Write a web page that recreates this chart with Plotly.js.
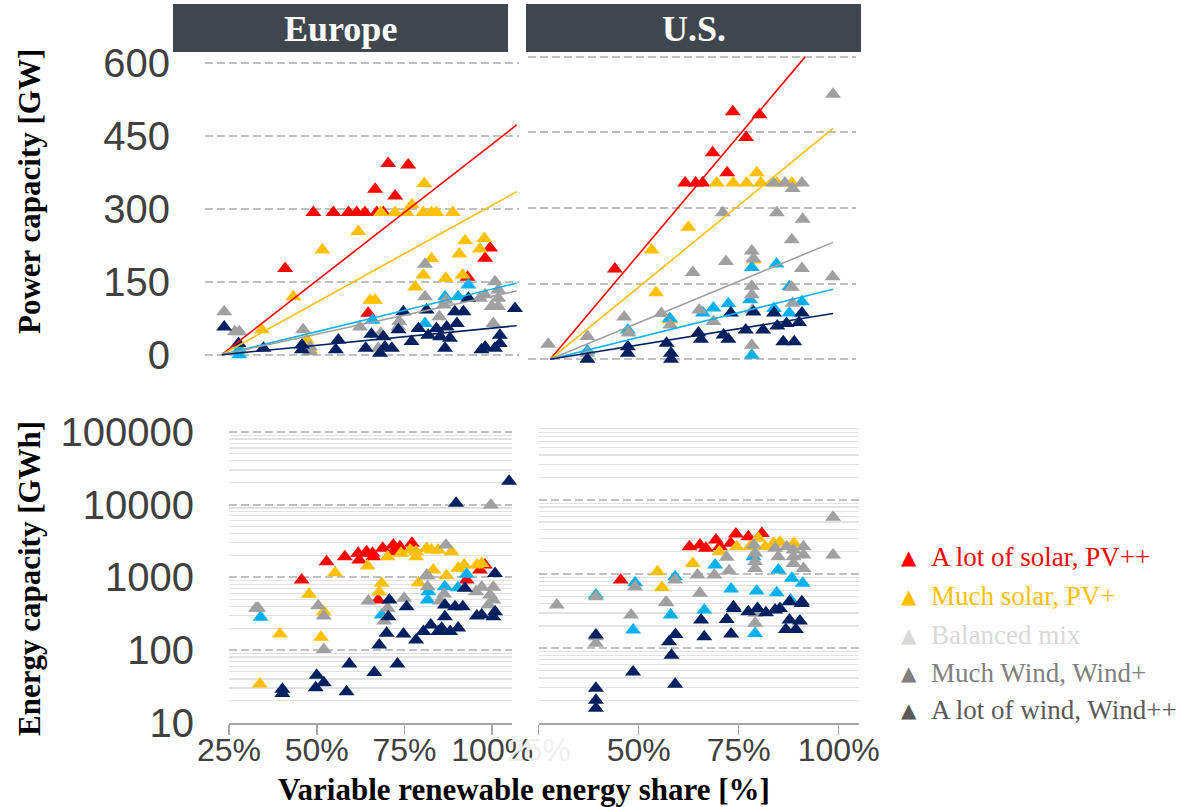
<!DOCTYPE html>
<html><head><meta charset="utf-8">
<script src="https://cdn.plot.ly/plotly-3.0.1.min.js"></script>
<style>html,body{margin:0;padding:0;background:#fff}#chart{width:1186px;height:807px}</style>
</head><body><div id="chart"></div>
<script>
// ---------- categories & styles ----------
const categories = ['A lot of solar, PV++','Much solar, PV+','Balanced mix','Much Wind, Wind+','A lot of wind, Wind++'];
const markerColors = ['#ff0000','#ffc000','#00b0f0','#a0a0a0','#002060'];
const legendColors = ['#ff0000','#ffc000','#d9d9d9','#808080','#595959'];
const panelTitles = ['Europe','U.S.'];
const powerTicks = [0,150,300,450,600];
const energyTicks = [10,100,1000,10000,100000];
const energyMinor = [20,30,40,50,60,70,80,90,200,300,400,500,600,700,800,900,2000,3000,4000,5000,6000,7000,8000,9000,20000,30000,40000,50000,60000,70000,80000,90000];
const shareTicks = [25,50,75,100];
const shareTickText = ['25%','50%','75%','100%'];

// ---------- Europe: power capacity [GW] ----------
const euPowerPVppX = [70.5,75.4,55.4,60.3,64.0,66.0,68.0,70.9,72.5,48.5,98.6,97.4,93.1,68.8,73.7,78.6];
const euPowerPVppY = [340,326,292,292,292,292,292,292,292,177,219,198,159,85,393,390];
const euPowerPVpX = [82.5,79.5,71.9,75.4,78.2,82.3,84.3,85.5,89.5,66.4,57.6,92.5,97.2,96.1,91.1,84.3,82.3,87.8,91.9,80.3,50.5,69.3,70.5,42.8,53.8,54.6,37.5];
const euPowerPVpY = [352,308,292,292,292,292,292,292,292,253,215,234,239,217,207,197,164,157,164,139,119,112,112,51,30,10,10];
const euPowerBalX = [37.3,37.3,69.9,82.7,87.6,90.8,93.3];
const euPowerBalY = [0,10,71,64,119,119,143];
const euPowerWindpX = [33.6,36.2,37.3,82.7,82.7,52.9,54.6,54.6,66.8,71.3,71.9,76.4,76.2,86.2,87.3,87.8,96.1,97.4,99.8,100.6,100.6,99.0,100.6,99.4];
const euPowerWindpY = [88,47,47,186,119,51,6,16,57,13,44,68,57,78,102,112,116,123,150,133,116,99,99,64];
const euPowerWindppX = [33.6,37.1,43.2,52.6,52.6,61.5,60.9,68.2,69.6,71.7,72.9,74.6,77.4,76.2,79.4,81.1,83.1,83.5,85.5,86.4,87.6,88.8,90.0,92.1,90.5,93.3,96.5,97.4,99.8,101.0,101.0,104.7,88.0,72.5];
const euPowerWindppY = [57,23,13,20,10,30,10,13,42,3,16,13,88,51,27,54,92,40,54,37,13,34,88,88,64,116,10,16,13,40,23,95,57,37];
// trend lines (start, end) per category
const euTrendX = [33,105.1];
const euTrendY = [[0,472],[0,335],[0,147],[0,131],[0,59.6]];

// ---------- U.S.: power capacity [GW] ----------
const usPowerPVppX = [75.2,81.8,78.5,70.2,73.8,63.4,66.0,67.7,46.0];
const usPowerPVppY = [491,485,440,410,370,350,350,350,179];
const usPowerPVpX = [71.2,75.3,78.6,81.1,82.1,86.1,89.8,64.2,55.1,56.2,59.7,80.3];
const usPowerPVpY = [350,350,350,370,350,350,350,262,217,132,78,197];
const usPowerBalX = [86.0,79.9,79.5,74.1,70.4,67.8,59.6,49.2,39.2,85.4,89.2,92.3,89.2,79.9];
const usPowerBalY = [189,182,118,110,102,92,81,58,17,101,92,114,144,8];
const usPowerWindpX = [100,85.2,88.1,92.3,90.0,72.7,86.1,92.5,89.8,79.9,80.3,73.5,65.3,92.3,99.9,79.9,79.9,80.1,89.8,90.0,66.9,70.4,57.5,59.7,48.3,49.4,39.2,39.2,29.5,79.9];
const usPowerWindpY = [526,350,350,350,339,291,291,278,237,215,200,194,172,180,164,145,128,98,143,111,98,75,91,68,84,52,45,12,30,28];
const usPowerWindppX = [39.2,49.2,49.2,58.8,59.9,59.9,66.7,67.3,72.9,74.1,74.7,78.4,80.3,82.7,85.4,86.2,88.5,91.6,92.3,87.7,90.4];
const usPowerWindppY = [0,25,12,32,12,0,52,40,48,40,92,58,94,58,92,66,71,73,92,35,35];
const usTrendX = [[30,93.1],[30,100],[30,100],[30,100],[30,100]];
const usTrendY = [[0,600],[0,458],[0,139],[0,232],[0,91]];

// ---------- Europe: energy capacity [GWh] ----------
const euEnergyPVppX = [45.7,52.8,58.0,61.8,62.1,64.2,65.9,66.1,68.8,71.8,73.7,77.1,71.8,97.9,96.5,92.7,67.5];
const euEnergyPVppY = [918,1640,1920,2140,1730,2250,2140,1920,2500,2780,2640,2930,2240,1480,1260,918,487];
const euEnergyPVpX = [55.2,64.5,70.2,74.0,76.6,78.3,78.3,81.3,82.7,84.6,88.4,90.3,92.0,95.6,97.0,83.2,87.0,79.0,68.5,67.8,47.8,39.5,51.2,33.8,52.0];
const euEnergyPVpY = [1155,1430,1920,2140,2370,2250,1920,2500,2370,2370,2250,1330,1480,1480,1550,1260,1050,844,826,630,583,166,150,34,336];
const euEnergyBalX = [34.0,81.6,86.5,90.2,92.7,68.5,81.8];
const euEnergyBalY = [282,487,742,720,1100,302,632];
const euEnergyWindpX = [86.8,99.6,33.3,32.7,50.4,52.0,52.0,64.7,70.2,69.2,74.9,81.6,81.6,86.3,85.1,95.4,97.0,100.3,99.4,100.3,98.9,81.3];
const euEnergyWindpY = [2780,9890,375,375,407,294,102,472,374,251,514,1040,742,590,472,632,730,730,571,487,416,1070];
const euEnergyWindppX = [104.8,89.7,100.8,92.2,70.7,75.6,70.4,69.9,74.7,78.3,67.8,80.4,82.5,84.6,85.6,88.0,90.3,86.5,86.5,89.4,91.6,95.6,97.0,100.3,100.8,59.3,73.0,66.4,50.0,52.0,49.7,58.5,40.2,40.2];
const euEnergyWindppY = [21000,10400,1130,706,487,394,287,170,166,137,117,179,221,179,199,179,200,287,415,394,394,294,302,287,336,64,64,49,45,35.5,30.3,26.7,28.8,25.3];

// ---------- U.S.: energy capacity [GWh] ----------
const usEnergyPVppX = [45.5,62.7,65.3,66.8,69.3,70.3,73.0,74.3,77.4,80.8];
const usEnergyPVppY = [830,2330,2460,2220,2870,2330,2590,3450,3170,3520];
const usEnergyPVpX = [54.7,55.8,63.5,70.2,74.5,79.9,81.6,83.7,85.3,88.8,77.8];
const usEnergyPVpY = [1075,660,1390,2000,2330,3020,2330,2600,2700,2600,2330];
const usEnergyBalX = [49.1,39.3,59.1,69.1,84.9,88.3,91.0,73.1,79.5,84.5,78.7,88.0,58.0,66.4,48.6,79.1];
const usEnergyBalY = [764,521,920,1320,1130,875,750,628,590,561,1710,447,281,327,176,158];
const usEnergyWindpX = [98.6,98.6,78.8,79.1,79.1,79.1,84.1,84.9,87.0,88.7,88.7,88.7,91.2,91.2,91.2,72.0,72.6,64.7,68.9,59.1,49.1,39.3,29.5,57.0,65.3,56.8,48.1,39.3,39.3,79.1,79.1];
const usEnergyWindpY = [5800,1800,2460,1900,1470,1190,2220,1710,2330,2100,1710,1390,2330,1800,1190,1680,1110,970,970,830,674,495,383,411,550,416,281,143,117,296,217];
const usEnergyWindppX = [39.3,39.3,39.3,39.3,48.6,59.1,58.2,57.6,59.2,66.4,65.6,72.0,73.1,73.8,77.4,79.7,81.8,84.1,85.3,87.7,90.8,87.7,90.3,86.8,89.3,73.7,90.8];
const usEnergyWindppY = [151,29,20,15.6,48,33,81,123,154,143,240,245,156,345,311,345,301,327,345,424,424,240,233,180,180,363,400];

// ---------- build traces ----------
const panels = [
  {xa:'x', ya:'y',  X:[euPowerPVppX,euPowerPVpX,euPowerBalX,euPowerWindpX,euPowerWindppX], Y:[euPowerPVppY,euPowerPVpY,euPowerBalY,euPowerWindpY,euPowerWindppY]},
  {xa:'x2',ya:'y2', X:[usPowerPVppX,usPowerPVpX,usPowerBalX,usPowerWindpX,usPowerWindppX], Y:[usPowerPVppY,usPowerPVpY,usPowerBalY,usPowerWindpY,usPowerWindppY]},
  {xa:'x3',ya:'y3', X:[euEnergyPVppX,euEnergyPVpX,euEnergyBalX,euEnergyWindpX,euEnergyWindppX], Y:[euEnergyPVppY,euEnergyPVpY,euEnergyBalY,euEnergyWindpY,euEnergyWindppY]},
  {xa:'x4',ya:'y4', X:[usEnergyPVppX,usEnergyPVpX,usEnergyBalX,usEnergyWindpX,usEnergyWindppX], Y:[usEnergyPVppY,usEnergyPVpY,usEnergyBalY,usEnergyWindpY,usEnergyWindppY]}
];
const traces = [];
panels.forEach(p => {
  for (let c = 0; c < categories.length; c++) {
    traces.push({type:'scatter', mode:'markers', x:p.X[c], y:p.Y[c], xaxis:p.xa, yaxis:p.ya,
      name:categories[c], showlegend:false, cliponaxis:false,
      marker:{symbol:'triangle-up', size:14, color:markerColors[c], line:{width:0}}});
  }
});
for (let c = 0; c < categories.length; c++) {
  traces.push({type:'scatter', mode:'lines', x:euTrendX, y:euTrendY[c], xaxis:'x', yaxis:'y',
    showlegend:false, line:{color:markerColors[c], width:1.6}});
  traces.push({type:'scatter', mode:'lines', x:usTrendX[c], y:usTrendY[c], xaxis:'x2', yaxis:'y2',
    showlegend:false, line:{color:markerColors[c], width:1.6}});
}

const W = 1186, H = 807;
const px = v => v / W, py = v => (H - v) / H;
const tickFontY = {family:'Liberation Sans, Arial, sans-serif', size:40, color:'#404040'};
const tickFontX = {family:'Liberation Sans, Arial, sans-serif', size:32, color:'#404040'};
const dashGrid = '8px,4px';

const topX = (dom, rng) => ({domain:dom, range:rng, showgrid:false, zeroline:false, showline:false, showticklabels:false, ticks:''});
const powerY = (dom, rng, anchor, labels) => ({domain:dom, range:rng, anchor:anchor, tickmode:'array', tickvals:powerTicks,
  showticklabels:labels, tickfont:tickFontY, ticks:'', ticklabelstandoff:34,
  showgrid:true, gridcolor:'#c0c0c0', gridwidth:2, griddash:dashGrid, zeroline:false, showline:false});
const energyY = (dom, rng, anchor, labels) => ({domain:dom, type:'log', range:rng, anchor:anchor, tickmode:'array', tickvals:energyTicks,
  ticktext:energyTicks.map(String), showticklabels:labels, tickfont:tickFontY, ticks:'', ticklabelstandoff:34,
  showgrid:true, gridcolor:'#c0c0c0', gridwidth:2, griddash:dashGrid, zeroline:false, showline:false,
  minor:{tickmode:'array', tickvals:energyMinor, showgrid:true, gridcolor:'#e2e2e2', gridwidth:1.2, griddash:'solid', ticks:''}});
const bottomX = (dom, rng, anchor, ttext) => ({domain:dom, range:rng, anchor:anchor, tickmode:'array', tickvals:shareTicks, ticktext:ttext,
  tickfont:tickFontX, ticks:'outside', ticklen:10, tickwidth:1.5, tickcolor:'#a6a6a6', ticklabelstandoff:-12,
  showline:true, linecolor:'#a6a6a6', linewidth:2, showgrid:false, zeroline:false});

const usTickText = ['<span style="color:#f0f0f0">25%</span>','50%','75%','100%'];

const layout = {
  width:W, height:H, margin:{l:0,r:0,t:0,b:0}, paper_bgcolor:'#fff', plot_bgcolor:'rgba(0,0,0,0)',
  showlegend:false,
  xaxis:  Object.assign(topX([px(205),px(519)],[28.91,105.68]), {anchor:'y'}),
  yaxis:  powerY([py(365),py(52)],[-21.2,622],'x',true),
  xaxis2: Object.assign(topX([px(528),px(856)],[24.5,105.69]), {anchor:'y2'}),
  yaxis2: powerY([py(365),py(52)],[-11.3,609.7],'x2',false),
  xaxis3: bottomX([px(229),px(512)],[25,105.63],'y3',shareTickText),
  yaxis3: energyY([py(722.7),py(425)],[1,5.095],'x3',true),
  xaxis4: bottomX([px(538.7),px(859)],[25,105.08],'y4',usTickText),
  yaxis4: energyY([py(722.7),py(425)],[1,5.005],'x4',false),
  shapes:[
    {type:'rect', xref:'paper', yref:'paper', x0:px(173), x1:px(508), y0:py(52), y1:py(4), fillcolor:'#40464e', line:{width:0}, layer:'below'},
    {type:'rect', xref:'paper', yref:'paper', x0:px(526), x1:px(861), y0:py(52), y1:py(4), fillcolor:'#40464e', line:{width:0}, layer:'below'}
  ],
  annotations:[]
};
const serifBold = {family:'Liberation Serif, Times New Roman, serif', size:31, color:'#000'};
const ann = (x, y, text, font, extra) => Object.assign({xref:'paper', yref:'paper', x:px(x), y:py(y), text:text,
  showarrow:false, xanchor:'center', yanchor:'middle', font:font}, extra || {});
layout.annotations.push(
  ann(340.5, 29, '<b>'+panelTitles[0]+'</b>', {family:'Liberation Serif, serif', size:36, color:'#fff'}),
  ann(693.5, 29, '<b>'+panelTitles[1]+'</b>', {family:'Liberation Serif, serif', size:36, color:'#fff'}),
  ann(29, 192, '<b>Power capacity [GW]</b>', serifBold, {textangle:-90}),
  ann(29, 579, '<b>Energy capacity [GWh]</b>', serifBold, {textangle:-90}),
  ann(524, 789, '<b>Variable renewable energy share [%]</b>', serifBold)
);
const legendRows = [557, 596, 635, 673, 710];
categories.forEach((c, i) => {
  layout.annotations.push(
    ann(909, legendRows[i], '▲', {family:'DejaVu Sans, sans-serif', size:20, color:legendColors[i]}),
    ann(929, legendRows[i], c, {family:'Liberation Serif, serif', size:27, color:legendColors[i]}, {xanchor:'left'})
  );
});

Plotly.newPlot('chart', traces, layout, {staticPlot:true, displayModeBar:false});
</script>
</body></html>
